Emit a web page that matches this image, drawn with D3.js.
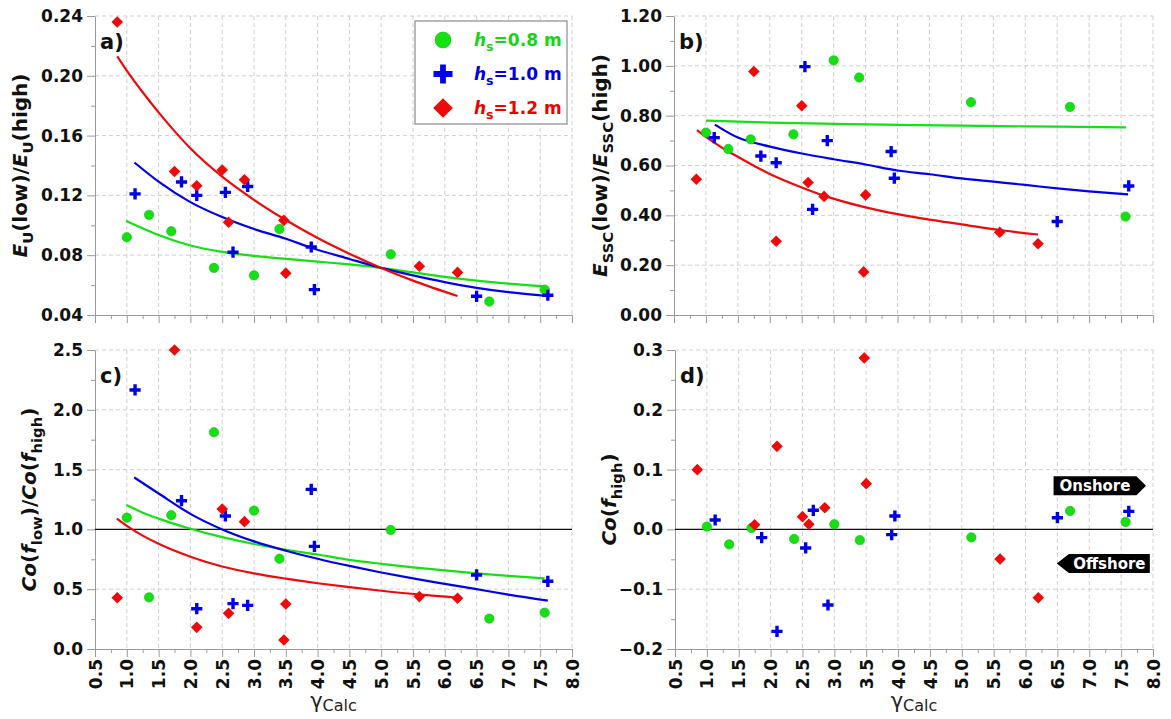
<!DOCTYPE html>
<html>
<head>
<meta charset="utf-8">
<script src="https://cdn.jsdelivr.net/npm/d3@7"></script>
<style>
  body { margin: 0; background: #fff; }
  svg { display: block; }
  text { font-family: "DejaVu Sans", Verdana, sans-serif; }
</style>
</head>
<body>
<svg id="chart" width="1171" height="719"></svg>
<script>
// ---- gamma_Calc positions of the runs, per significant wave height ----
const gammaGreen = [1.0, 1.35, 1.7, 2.37, 3.0, 3.4, 5.15, 6.7, 7.57];
const gammaBlue  = [1.13, 1.86, 2.1, 2.55, 2.67, 2.9, 3.9, 3.95, 6.5, 7.62];
const gammaRed   = [0.85, 1.75, 2.1, 2.5, 2.6, 2.85, 3.47, 3.5, 5.6, 6.2];

// a) E_U(low)/E_U(high)
const euGreen = [0.092, 0.107, 0.096, 0.0715, 0.0665, 0.0975, 0.0806, 0.049, 0.057];
const euBlue  = [0.121, 0.129, 0.120, 0.122, 0.082, 0.126, 0.0855, 0.057, 0.0525, 0.0532];
const euRed   = [0.236, 0.136, 0.1265, 0.137, 0.102, 0.1305, 0.1033, 0.068, 0.0726, 0.0685];

// b) E_SSC(low)/E_SSC(high)
const essGreen = [0.732, 0.666, 0.705, 0.725, 1.022, 0.953, 0.854, 0.835, 0.395];
const essBlue  = [0.712, 0.638, 0.611, 0.997, 0.424, 0.700, 0.656, 0.549, 0.375, 0.518];
const essRed   = [0.545, 0.977, 0.296, 0.840, 0.532, 0.476, 0.173, 0.482, 0.332, 0.286];

// c) Co(f_low)/Co(f_high)
const coRatioGreen = [1.098, 0.432, 1.118, 1.812, 1.157, 0.755, 0.995, 0.254, 0.304];
const coRatioBlue  = [2.166, 1.240, 0.337, 1.112, 0.379, 0.365, 1.335, 0.858, 0.619, 0.566];
const coRatioRed   = [0.429, 2.50, 0.181, 1.171, 0.298, 1.065, 0.075, 0.376, 0.438, 0.424];

// d) Co(f_high)
const coHighGreen = [0.0046, -0.025, 0.0023, -0.016, 0.0085, -0.018, -0.0133, 0.0308, 0.0124];
const coHighBlue  = [0.0157, -0.0138, -0.1705, -0.031, 0.0319, -0.1264, -0.0088, 0.0224, 0.0196, 0.0302];
const coHighRed   = [0.0999, 0.0079, 0.1389, 0.0213, 0.0085, 0.0363, 0.2866, 0.0765, -0.0495, -0.1142];

// ---- fitted trend curves, [gamma, value] ----
const fitEuGreen = [[0.99,0.103],[1.25,0.098],[1.5,0.0935],[2.0,0.0865],[2.5,0.0822],[3.0,0.0795],[3.5,0.0775],[4.0,0.0757],[4.5,0.0738],[5.0,0.0715],[5.5,0.0685],[6.0,0.0655],[6.5,0.063],[7.0,0.061],[7.57,0.0592]];
const fitEuBlue  = [[1.12,0.142],[1.5,0.1292],[2.0,0.1155],[2.5,0.1055],[3.0,0.0975],[3.5,0.091],[3.9,0.085],[4.5,0.0775],[5.0,0.0715],[5.5,0.0665],[6.0,0.062],[6.5,0.0582],[7.0,0.0553],[7.62,0.0527]];
const fitEuRed   = [[0.85,0.213],[1.0,0.2035],[1.25,0.189],[1.5,0.1755],[1.75,0.163],[2.0,0.1515],[2.5,0.1325],[3.0,0.117],[3.5,0.1035],[4.0,0.0915],[4.5,0.081],[5.0,0.0715],[5.5,0.063],[6.2,0.0527]];

const fitEssGreen = [[1.0,0.780],[2.0,0.772],[3.0,0.767],[4.0,0.763],[5.0,0.760],[6.0,0.757],[7.58,0.753]];
const fitEssBlue  = [[1.14,0.764],[1.5,0.712],[2.0,0.676],[2.5,0.648],[3.0,0.625],[3.5,0.604],[4.0,0.58],[4.5,0.565],[5.0,0.548],[5.5,0.535],[6.0,0.522],[6.5,0.508],[7.0,0.496],[7.61,0.484]];
const fitEssRed   = [[0.86,0.742],[1.0,0.715],[1.25,0.672],[1.5,0.635],[2.0,0.566],[2.5,0.512],[2.86,0.478],[3.5,0.432],[4.0,0.405],[4.5,0.383],[5.0,0.364],[5.6,0.341],[6.2,0.323]];

const fitCoGreen = [[0.994,1.204],[1.25,1.14],[1.5,1.09],[2.0,1.005],[2.5,0.935],[3.0,0.878],[3.5,0.83],[4.0,0.79],[4.5,0.745],[5.0,0.712],[5.5,0.683],[6.0,0.657],[6.5,0.633],[7.0,0.611],[7.57,0.59]];
const fitCoBlue  = [[1.116,1.435],[1.5,1.30],[2.0,1.13],[2.5,1.0],[3.0,0.9],[3.5,0.822],[4.0,0.755],[4.5,0.695],[5.0,0.64],[5.5,0.59],[6.0,0.545],[6.5,0.5],[7.0,0.455],[7.62,0.405]];
const fitCoRed   = [[0.843,1.09],[1.0,1.03],[1.25,0.948],[1.5,0.88],[2.0,0.772],[2.5,0.69],[3.0,0.632],[3.5,0.588],[4.0,0.55],[4.5,0.517],[5.0,0.487],[5.6,0.455],[6.2,0.43]];

// ---- axis ticks ----
const gammaTicks = [0.5,1.0,1.5,2.0,2.5,3.0,3.5,4.0,4.5,5.0,5.5,6.0,6.5,7.0,7.5,8.0];
const ticksEu    = [0.04,0.08,0.12,0.16,0.20,0.24];
const ticksEss   = [0.0,0.2,0.4,0.6,0.8,1.0,1.2];
const ticksCo    = [0.0,0.5,1.0,1.5,2.0,2.5];
const ticksCoH   = [-0.2,-0.1,0.0,0.1,0.2,0.3];

const legendLabels = ["0.8", "1.0", "1.2"];

// ---- styling ----
const COL = { green: "#14e014", blue: "#0000e8", red: "#ee0a0a" };
const TXT = { green: "#18d418", blue: "#0000dd", red: "#ee0000" };
const AXIS_COL = "#9a9a9a";
const GRID_COL = "#cfcfcf";

const svg = d3.select("#chart");

const panels = [
  { tag: "a)", box: [95, 572, 16, 315], domain: [0.04, 0.24], ticks: ticksEu, fmt: ".2f", xLabels: false,
    series: [[gammaGreen, euGreen], [gammaBlue, euBlue], [gammaRed, euRed]],
    fits: [fitEuGreen, fitEuBlue, fitEuRed], ref: null,
    title: [{t:"E",i:1},{t:"U",sub:1},{t:"(low)/"},{t:"E",i:1},{t:"U",sub:1},{t:"(high)"}], titleX: 27 },
  { tag: "b)", box: [674, 1153, 16, 315], domain: [0.0, 1.2], ticks: ticksEss, fmt: ".2f", xLabels: false,
    series: [[gammaGreen, essGreen], [gammaBlue, essBlue], [gammaRed, essRed]],
    fits: [fitEssGreen, fitEssBlue, fitEssRed], ref: null,
    title: [{t:"E",i:1},{t:"SSC",sub:1},{t:"(low)/"},{t:"E",i:1},{t:"SSC",sub:1},{t:"(high)"}], titleX: 607 },
  { tag: "c)", box: [95, 572, 350, 649], domain: [0.0, 2.5], ticks: ticksCo, fmt: ".1f", xLabels: true,
    series: [[gammaGreen, coRatioGreen], [gammaBlue, coRatioBlue], [gammaRed, coRatioRed]],
    fits: [fitCoGreen, fitCoBlue, fitCoRed], ref: 1.0,
    title: [{t:"Co",i:1},{t:"("},{t:"f",i:1},{t:"low",sub:1},{t:")/"},{t:"Co",i:1},{t:"("},{t:"f",i:1},{t:"high",sub:1},{t:")"}], titleX: 36 },
  { tag: "d)", box: [675, 1153, 350, 649], domain: [-0.2, 0.3], ticks: ticksCoH, fmt: ".1f", xLabels: true,
    series: [[gammaGreen, coHighGreen], [gammaBlue, coHighBlue], [gammaRed, coHighRed]],
    fits: [], ref: 0.0,
    title: [{t:"Co",i:1},{t:"("},{t:"f",i:1},{t:"high",sub:1},{t:")"}], titleX: 616 }
];

const colorKeys = ["green", "blue", "red"];

// marker shapes
const plusPath = (a, t) => `M${-a},${-t}H${a}V${t}H${-a}Z M${-t},${-a}H${t}V${a}H${-t}Z`;
const diamondPath = s => `M0,${-s}L${s},0L0,${s}L${-s},0Z`;

function drawMarker(g, kind, cx, cy, scale) {
  const k = scale || 1;
  if (kind === "green") {
    g.append("circle").attr("cx", cx).attr("cy", cy).attr("r", 4.7 * k)
      .attr("fill", COL.green).attr("stroke", "#10b810").attr("stroke-width", 0.6);
  } else if (kind === "blue") {
    g.append("path").attr("d", plusPath(5.6 * k, 1.7 * k))
      .attr("transform", `translate(${cx},${cy})`).attr("fill", COL.blue);
  } else {
    g.append("path").attr("d", diamondPath(5.8 * k))
      .attr("transform", `translate(${cx},${cy})`).attr("fill", COL.red);
  }
}

// text with italic parts and subscripts
function richText(sel, parts, size) {
  let shift = 0;
  parts.forEach(p => {
    const target = p.sub ? size * 0.3 : 0;
    const ts = sel.append("tspan").text(p.t).attr("dy", target - shift);
    shift = target;
    if (p.i) ts.attr("font-style", "italic");
    if (p.sub) ts.attr("font-size", size * 0.74);
  });
}

const midpoints = arr => d3.pairs(arr).map(([a, b]) => (a + b) / 2);
const gammaMinor = midpoints(gammaTicks);

panels.forEach(p => {
  const [xl, xr, yt, yb] = p.box;
  const x = d3.scaleLinear().domain([0.5, 8.0]).range([xl, xr]);
  const y = d3.scaleLinear().domain(p.domain).range([yb, yt]);
  const g = svg.append("g");

  // dashed grid
  g.append("g").selectAll("line").data(gammaTicks.slice(1)).join("line")
    .attr("x1", d => x(d)).attr("x2", d => x(d)).attr("y1", yt).attr("y2", yb)
    .attr("stroke", GRID_COL).attr("stroke-dasharray", "4,3");
  g.append("g").selectAll("line").data(p.ticks.slice(1)).join("line")
    .attr("x1", xl).attr("x2", xr).attr("y1", d => y(d)).attr("y2", d => y(d))
    .attr("stroke", GRID_COL).attr("stroke-dasharray", "4,3");

  // minor ticks
  g.append("g").attr("transform", `translate(0,${yb})`)
    .call(d3.axisBottom(x).tickValues(gammaMinor).tickSize(4).tickSizeOuter(0).tickFormat(""))
    .call(s => s.select(".domain").remove());
  g.append("g").attr("transform", `translate(${xl},0)`)
    .call(d3.axisLeft(y).tickValues(midpoints(p.ticks)).tickSize(4).tickSizeOuter(0).tickFormat(""))
    .call(s => s.select(".domain").remove());

  // x axis
  const xa = g.append("g").attr("transform", `translate(0,${yb})`)
    .call(d3.axisBottom(x).tickValues(gammaTicks).tickSize(8).tickSizeOuter(0)
      .tickFormat(p.xLabels ? d3.format(".1f") : ""));
  if (p.xLabels) {
    xa.selectAll(".tick text")
      .attr("transform", "rotate(-90)")
      .attr("text-anchor", "end")
      .attr("x", -10).attr("y", 0).attr("dy", "0.36em")
      .attr("font-size", 17).attr("font-weight", "bold").attr("fill", "#111")
      .style("font-family", '"DejaVu Sans", Verdana, sans-serif');
  }

  // y axis
  g.append("g").attr("transform", `translate(${xl},0)`)
    .call(d3.axisLeft(y).tickValues(p.ticks).tickSize(8).tickSizeOuter(0).tickFormat(d3.format(p.fmt)))
    .call(s => s.selectAll(".tick text")
      .attr("font-size", 17).attr("font-weight", "bold").attr("fill", "#111").attr("x", -12)
      .style("font-family", '"DejaVu Sans", Verdana, sans-serif'));

  g.selectAll(".domain, .tick line").attr("stroke", AXIS_COL);

  // reference line
  if (p.ref !== null) {
    g.append("line").attr("x1", xl).attr("x2", xr).attr("y1", y(p.ref)).attr("y2", y(p.ref))
      .attr("stroke", "#111").attr("stroke-width", 1.3);
  }

  // fitted curves
  const line = d3.line().x(d => x(d[0])).y(d => y(d[1])).curve(d3.curveMonotoneX);
  p.fits.forEach((f, i) => {
    g.append("path").datum(f).attr("d", line).attr("fill", "none")
      .attr("stroke", COL[colorKeys[i]]).attr("stroke-width", 2.2);
  });

  // points
  p.series.forEach(([xs, ys], i) => {
    xs.forEach((xv, j) => drawMarker(g, colorKeys[i], x(xv), y(ys[j]), 1));
  });

  // panel tag
  g.append("text").attr("x", xl + 5).attr("y", yt + 33)
    .attr("font-size", 21).attr("font-weight", "bold").attr("fill", "#111").text(p.tag);

  // y title
  const tt = g.append("text")
    .attr("transform", `translate(${p.titleX},${(yt + yb) / 2}) rotate(-90)`)
    .attr("text-anchor", "middle").attr("font-size", 20).attr("font-weight", "bold").attr("fill", "#111");
  richText(tt, p.title, 20);

  // x title
  if (p.xLabels) {
    const xt = g.append("text").attr("x", (xl + xr) / 2).attr("y", 708)
      .attr("text-anchor", "middle").attr("fill", "#222").attr("font-size", 21);
    xt.append("tspan").text("γ");
    xt.append("tspan").text("Calc").attr("font-size", 16).attr("dy", 3);
  }

  // onshore / offshore arrows
  if (p.tag === "d)") {
    const ya = y(0.073), yo = y(-0.057), hh = 9.5;
    const xs0 = x(6.44), xs1 = x(7.74), xsTip = x(7.89);
    g.append("path")
      .attr("d", `M${xs0},${ya - hh}H${xs1}L${xsTip},${ya}L${xs1},${ya + hh}H${xs0}Z`).attr("fill", "#000");
    g.append("text").attr("x", (xs0 + xs1) / 2).attr("y", ya).attr("dy", "0.36em")
      .attr("text-anchor", "middle").attr("fill", "#fff").attr("font-size", 15).attr("font-weight", "bold")
      .text("Onshore");
    const xo0 = x(6.49), xo1 = x(6.68), xo2 = x(7.95);
    g.append("path")
      .attr("d", `M${xo0},${yo}L${xo1},${yo - hh}H${xo2}V${yo + hh}H${xo1}Z`).attr("fill", "#000");
    g.append("text").attr("x", (xo1 + xo2) / 2).attr("y", yo).attr("dy", "0.36em")
      .attr("text-anchor", "middle").attr("fill", "#fff").attr("font-size", 15).attr("font-weight", "bold")
      .text("Offshore");
  }

  // legend
  if (p.tag === "a)") {
    const lg = g.append("g");
    lg.append("rect").attr("x", 415).attr("y", 21).attr("width", 152).attr("height", 103)
      .attr("fill", "#fff").attr("stroke", "#8a8a8a").attr("stroke-width", 1.2);
    legendLabels.forEach((lab, i) => {
      const cy = 40 + i * 34;
      drawMarker(lg, colorKeys[i], 443, cy, 1.7);
      const t = lg.append("text").attr("x", 474).attr("y", cy + 6)
        .attr("font-size", 17).attr("font-weight", "bold").attr("fill", TXT[colorKeys[i]]);
      richText(t, [{t:"h",i:1},{t:"s",sub:1},{t:`=${lab} m`}], 17);
    });
  }
});
</script>
</body>
</html>
